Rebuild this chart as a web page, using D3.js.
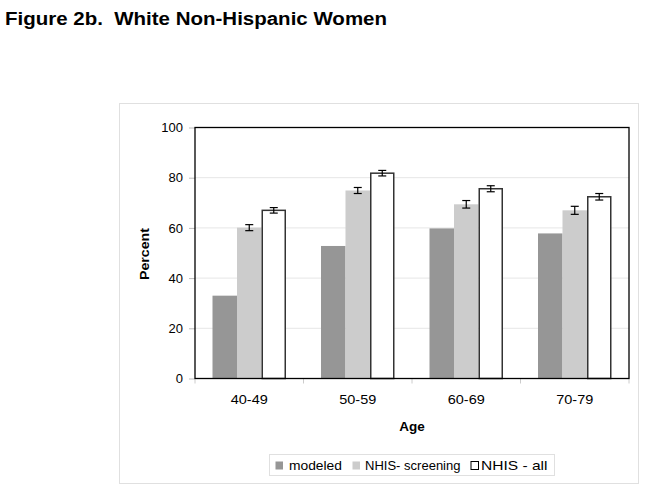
<!DOCTYPE html>
<html><head><meta charset="utf-8">
<script src="https://cdn.jsdelivr.net/npm/d3@7"></script>
<style>body{margin:0;background:#fff;}svg{display:block;font-family:Arial,"Liberation Sans",sans-serif;}</style>
</head><body>
<script>
const categories = ["40-49","50-59","60-69","70-79"];
const seriesNames = ["modeled","NHIS- screening","NHIS - all"];
const modeled = [33.0, 52.8, 59.8, 57.8];
const screening = [60.1, 74.9, 69.4, 67.0];
const screeningErr = [1.2, 1.2, 1.5, 1.6];
const allNhis = [67.0, 81.8, 75.6, 72.4];
const allErr = [1.1, 1.1, 1.2, 1.3];
const yTicks = [0,20,40,60,80,100];

const W=647,H=489;
const svg=d3.select("body").append("svg").attr("width",W).attr("height",H);
svg.append("rect").attr("width",W).attr("height",H).attr("fill","#fff");

svg.append("text").attr("x",5).attr("y",25).attr("font-size",18).attr("font-weight","bold").attr("fill","#000")
  .attr("textLength",382).attr("lengthAdjust","spacingAndGlyphs").style("white-space","pre")
  .text("Figure 2b.  White Non-Hispanic Women");

// outer chart border
svg.append("rect").attr("x",119.5).attr("y",103.5).attr("width",519).attr("height",380)
  .attr("fill","none").attr("stroke","#e0e0e0").attr("stroke-width",1);

const L=195,R=629,T=127.5,B=378.5;
const x=d3.scaleBand().domain(categories).range([L,R]).paddingInner(0).paddingOuter(0);
const y=d3.scaleLinear().domain([0,100]).range([B,T]);
const xs=d3.scaleBand().domain(seriesNames).range([0,73.5]);

// gridlines
svg.append("g").selectAll("line").data(yTicks.filter(d=>d>0&&d<100)).join("line")
  .attr("x1",L).attr("x2",R).attr("y1",d=>y(d)).attr("y2",d=>y(d)).attr("stroke","#e6e6e6").attr("stroke-width",1);

// axes
const yAxis=d3.axisLeft(y).tickValues(yTicks).tickSize(6).tickPadding(6).tickSizeOuter(0);
const gy=svg.append("g").attr("transform",`translate(${L},0)`).call(yAxis);
gy.select(".domain").remove();
gy.selectAll(".tick line").attr("stroke","#bbb");
gy.selectAll(".tick text").attr("font-size",13).attr("font-family","Arial, Liberation Sans, sans-serif").attr("fill","#000");

const gx=svg.append("g").attr("transform",`translate(0,${B})`)
  .call(d3.axisBottom(x).tickSize(0).tickPadding(16).tickSizeOuter(0));
gx.select(".domain").remove();
gx.selectAll(".tick text").attr("font-size",13.5).attr("font-family","Arial, Liberation Sans, sans-serif").attr("fill","#000")
  .attr("textLength",37).attr("lengthAdjust","spacingAndGlyphs");
// category boundary ticks
svg.append("g").selectAll("line").data(categories.concat(["end"])).join("line")
  .attr("x1",(d,i)=>L+i*x.bandwidth()).attr("x2",(d,i)=>L+i*x.bandwidth())
  .attr("y1",B).attr("y2",B+5).attr("stroke","#ccc");

const series=[
  {name:seriesNames[0],vals:modeled,err:null,fill:"#969696",stroke:"none"},
  {name:seriesNames[1],vals:screening,err:screeningErr,fill:"#cccccc",stroke:"none"},
  {name:seriesNames[2],vals:allNhis,err:allErr,fill:"#ffffff",stroke:"#333"}
];
const off=(x.bandwidth()-73.5)/2;
series.forEach(s=>{
  const g=svg.append("g");
  g.selectAll("rect").data(categories).join("rect")
    .attr("x",(c)=>x(c)+off+xs(s.name)+(s.stroke!=="none"?0.75:0))
    .attr("y",(c,i)=>y(s.vals[i]))
    .attr("width",xs.bandwidth()-(s.stroke!=="none"?1.5:0))
    .attr("height",(c,i)=>B-y(s.vals[i]))
    .attr("fill",s.fill).attr("stroke",s.stroke==="none"?null:s.stroke).attr("stroke-width",1.5);
  if(s.err){
    const eg=svg.append("g").attr("stroke","#000").attr("stroke-width",1.2);
    categories.forEach((c,i)=>{
      const cx=x(c)+off+xs(s.name)+xs.bandwidth()/2;
      const y1=y(s.vals[i]+s.err[i]), y2=y(s.vals[i]-s.err[i]);
      eg.append("line").attr("x1",cx).attr("x2",cx).attr("y1",y1).attr("y2",y2);
      eg.append("line").attr("x1",cx-4).attr("x2",cx+4).attr("y1",y1).attr("y2",y1);
      eg.append("line").attr("x1",cx-4).attr("x2",cx+4).attr("y1",y2).attr("y2",y2);
    });
  }
});

// plot border
svg.append("rect").attr("x",L).attr("y",T).attr("width",R-L).attr("height",B-T)
  .attr("fill","none").attr("stroke","#000").attr("stroke-width",1.3);

// axis titles
svg.append("text").attr("transform",`translate(149,254) rotate(-90)`).attr("text-anchor","middle")
  .attr("font-size",13.5).attr("font-weight","bold").attr("textLength",52).attr("lengthAdjust","spacingAndGlyphs").text("Percent");
svg.append("text").attr("x",412).attr("y",431).attr("text-anchor","middle")
  .attr("font-size",13.5).attr("font-weight","bold").text("Age");

// legend
svg.append("rect").attr("x",269.5).attr("y",454.5).attr("width",285).attr("height",21)
  .attr("fill","#fff").attr("stroke","#e0e0e0");
const legX=[275,352,470.5];
const legTX=[289,365,481];
const legLen=[53,95.5,66.5];
const lg=svg.append("g");
series.forEach((s,i)=>{
  lg.append("rect").attr("x",legX[i]+0.5).attr("y",461.5).attr("width",7.5).attr("height",8)
    .attr("fill",s.fill).attr("stroke",s.stroke==="none"?null:"#000").attr("stroke-width",1);
  lg.append("text").attr("x",legTX[i]).attr("y",470).attr("font-size",13.5)
    .attr("textLength",legLen[i]).attr("lengthAdjust","spacingAndGlyphs").text(s.name);
});
</script>
</body></html>
